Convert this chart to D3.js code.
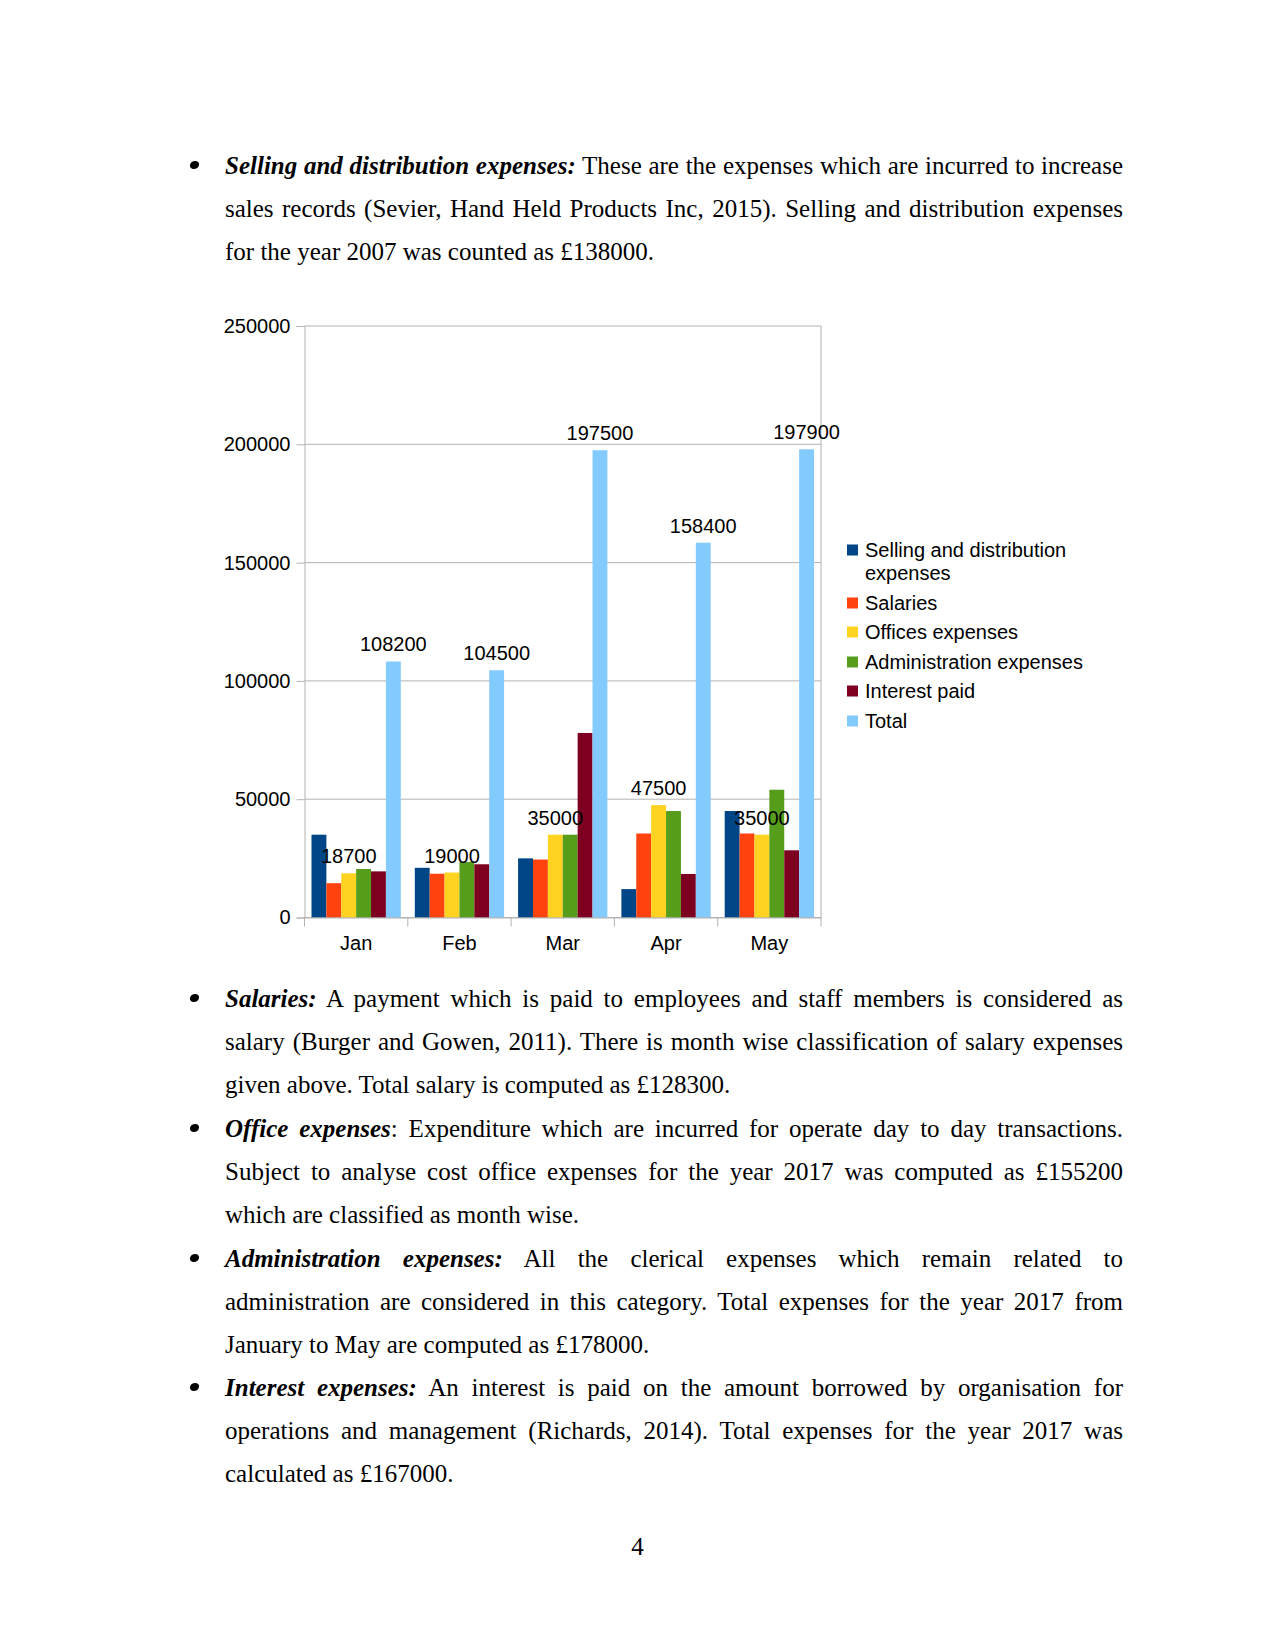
<!DOCTYPE html>
<html>
<head>
<meta charset="utf-8">
<script src="https://cdn.jsdelivr.net/npm/d3@7"></script>
<style>
  body { margin: 0; background: #fff; }
  #page { position: relative; width: 1275px; height: 1650px; }
  .para { position: absolute; left: 225px; width: 898px;
          font-family: "Liberation Serif", "Times New Roman", serif; font-size: 25px; line-height: 43px; color: #000; }
  .line { text-align: justify; text-align-last: justify; white-space: nowrap; }
  .line.last { text-align-last: left; }
  .bullet { position: absolute; left: -35px; top: 17px; width: 9px; height: 8px;
            border-radius: 50%; background: #000; transform: skewX(-12deg); }
  .lead { font-weight: bold; font-style: italic; }
  #chart { position: absolute; left: 0; top: 0; }
  #pagenum { position: absolute; left: 0; width: 1275px; top: 1525px; text-align: center;
             font-family: "Liberation Serif", serif; font-size: 25px; line-height: 43px; }
</style>
</head>
<body>
<div id="page">
  <svg id="chart" width="1275" height="1000"></svg>
</div>
<script>
// chart data
var months = ["Jan", "Feb", "Mar", "Apr", "May"];
var seriesNames = ["Selling and distribution expenses", "Salaries", "Offices expenses",
                   "Administration expenses", "Interest paid", "Total"];
var selling  = [35000, 21000, 25000, 12000, 45000];
var salaries = [14500, 18500, 24500, 35500, 35500];
var office   = [18700, 19000, 35000, 47500, 35000];
var admin    = [20500, 23500, 35000, 45000, 54000];
var interest = [19500, 22500, 78000, 18400, 28400];
var total    = [108200, 104500, 197500, 158400, 197900];
var yTicks   = [0, 50000, 100000, 150000, 200000, 250000];
var colors   = ["#004586", "#ff420e", "#ffd320", "#579d1c", "#7e0021", "#83caff"];
var labelled = [false, false, true, false, false, true];

// text around the chart
var paragraphs = [
  { top: 144, lines: [
    ["Selling and distribution expenses:", " These are the expenses which are incurred to increase"],
    ["", "sales records (Sevier, Hand Held Products Inc, 2015). Selling and distribution expenses"],
    ["", "for the year 2007 was counted as £138000."]] },
  { top: 977, lines: [
    ["Salaries:", " A payment which is paid to employees and staff members is considered as"],
    ["", "salary (Burger and Gowen, 2011). There is month wise classification of salary expenses"],
    ["", "given above. Total salary is computed as £128300."]] },
  { top: 1107, lines: [
    ["Office expenses", ": Expenditure which are incurred for operate day to day transactions."],
    ["", "Subject to analyse cost office expenses for the year 2017 was computed as £155200"],
    ["", "which are classified as month wise."]] },
  { top: 1237, lines: [
    ["Administration expenses:", " All the clerical expenses which remain related to"],
    ["", "administration are considered in this category. Total expenses for the year 2017 from"],
    ["", "January to May are computed as £178000."]] },
  { top: 1366, lines: [
    ["Interest expenses:", " An interest is paid on the amount borrowed by organisation for"],
    ["", "operations and management (Richards, 2014). Total expenses for the year 2017 was"],
    ["", "calculated as £167000."]] }
];

function draw_text() {
   var page = d3.select("#page");
   paragraphs.forEach(function(p) {
      var div = page.append("div").attr("class", "para").style("top", p.top + "px");
      div.append("span").attr("class", "bullet");
      p.lines.forEach(function(l, i) {
         var line = div.append("div").classed("line", true).classed("last", i == p.lines.length - 1);
         if (l[0]) line.append("span").attr("class", "lead").text(l[0]);
         line.append("span").text(l[1]);
      });
   });
   page.append("div").attr("id", "pagenum").text("4");
}

function draw_chart() {
   var svg = d3.select("#chart");
   var font = "'Liberation Sans', Arial, sans-serif";
   var fs = 20;
   var left = 304.5, right = 821, top = 326, bottom = 917.5;
   var series = [selling, salaries, office, admin, interest, total];

   var x0 = d3.scaleBand().domain(months).range([left, right]).padding(0);
   var x1 = d3.scaleBand().domain(d3.range(series.length))
              .range([7, x0.bandwidth() - 7]).padding(0);
   var y = d3.scaleLinear().domain([0, 250000]).range([bottom, top]);

   // grid
   svg.append("g").selectAll("line").data(yTicks).join("line")
      .attr("x1", left).attr("x2", right)
      .attr("y1", function(d) { return y(d); }).attr("y2", function(d) { return y(d); })
      .attr("stroke", "#b3b3b3").attr("stroke-width", 1);
   svg.append("line").attr("x1", right).attr("x2", right).attr("y1", top).attr("y2", bottom)
      .attr("stroke", "#b3b3b3");

   // bars
   var groups = svg.append("g").selectAll("g").data(months).join("g")
      .attr("transform", function(d) { return "translate(" + x0(d) + ",0)"; });
   groups.selectAll("rect")
      .data(function(d, i) { return series.map(function(s, k) { return {k: k, v: s[i]}; }); })
      .join("rect")
      .attr("x", function(d) { return x1(d.k); })
      .attr("width", x1.bandwidth())
      .attr("y", function(d) { return y(d.v); })
      .attr("height", function(d) { return bottom - y(d.v); })
      .attr("fill", function(d) { return colors[d.k]; });

   // value labels
   groups.selectAll("text")
      .data(function(d, i) {
         return series.map(function(s, k) { return {k: k, v: s[i]}; })
                      .filter(function(d) { return labelled[d.k]; });
      })
      .join("text")
      .attr("x", function(d) { return x1(d.k) + x1.bandwidth() / 2; })
      .attr("y", function(d) { return y(d.v) - 10; })
      .attr("text-anchor", "middle")
      .attr("font-family", font).attr("font-size", fs)
      .text(function(d) { return d.v; });

   // y axis
   var yAxis = svg.append("g").attr("transform", "translate(" + left + ",0)")
      .call(d3.axisLeft(y).tickValues(yTicks).tickSize(8).tickPadding(6).tickFormat(d3.format("d")));
   yAxis.select(".domain").attr("stroke", "#b3b3b3");
   yAxis.selectAll(".tick line").attr("stroke", "#b3b3b3");
   yAxis.selectAll("text").attr("font-family", font).attr("font-size", fs).attr("fill", "#000");

   // x axis
   var xAxis = svg.append("g").attr("transform", "translate(0," + bottom + ")")
      .call(d3.axisBottom(x0).tickSize(0).tickPadding(18));
   xAxis.select(".domain").attr("stroke", "#b3b3b3");
   xAxis.selectAll("text").attr("font-family", font).attr("font-size", fs).attr("fill", "#000");
   var edges = months.map(function(m) { return x0(m); }).concat([right]);
   svg.append("g").selectAll("line").data(edges).join("line")
      .attr("x1", function(d) { return d; }).attr("x2", function(d) { return d; })
      .attr("y1", bottom).attr("y2", bottom + 9)
      .attr("stroke", "#b3b3b3");

   // legend
   var legY = [550, 603, 632, 662, 691, 721];
   var leg = svg.append("g").selectAll("g").data(seriesNames).join("g")
      .attr("transform", function(d, i) { return "translate(847," + legY[i] + ")"; });
   leg.append("rect").attr("x", 0).attr("y", -5.5).attr("width", 11).attr("height", 11)
      .attr("fill", function(d, i) { return colors[i]; });
   leg.append("text").attr("x", 18).attr("y", 7)
      .attr("font-family", font).attr("font-size", fs)
      .each(function(d, i) {
         var t = d3.select(this);
         if (i == 0) {
            t.append("tspan").attr("x", 18).text("Selling and distribution");
            t.append("tspan").attr("x", 18).attr("dy", 23).text("expenses");
         } else {
            t.text(d);
         }
      });
}

draw_text();
draw_chart();
</script>
</body>
</html>
